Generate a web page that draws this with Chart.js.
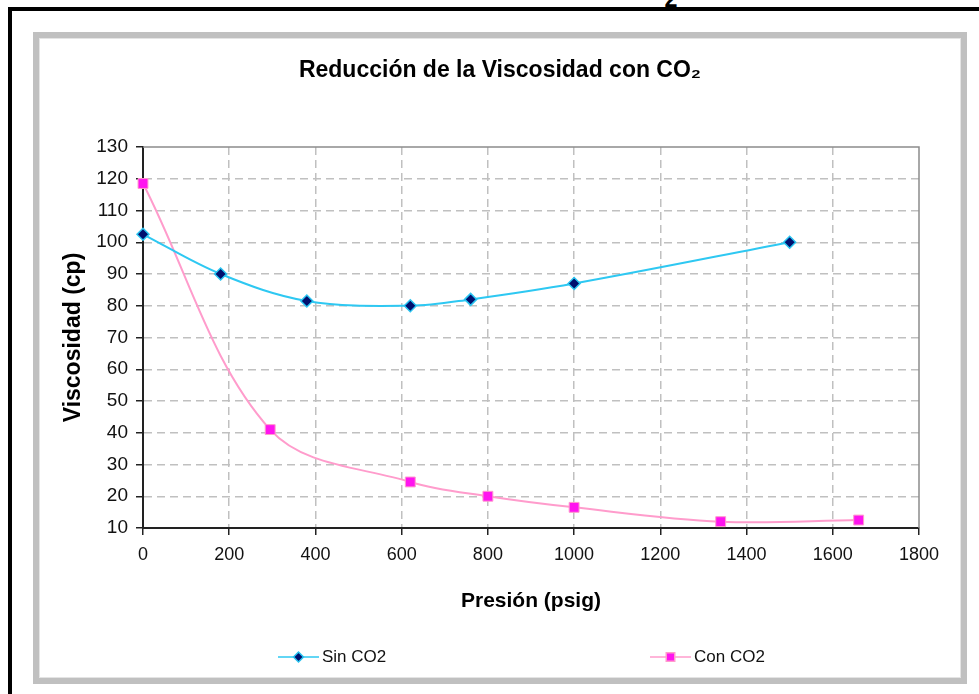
<!DOCTYPE html>
<html>
<head>
<meta charset="utf-8">
<script src="https://cdn.jsdelivr.net/npm/chart.js@4.4.1/dist/chart.umd.min.js"></script>
<style>
  body { margin: 0; background: #fff; width: 979px; height: 694px; overflow: hidden; position: relative; font-family: "Liberation Sans", Arial, sans-serif; }
  .cut { position: absolute; left: 30px; top: -25.5px; font-size: 28px; line-height: 32px; font-weight: bold; color: #000; white-space: nowrap; letter-spacing: 0.5px; }
  .outer { position: absolute; left: 8px; top: 7px; width: 990px; height: 720px; border: 4px solid #000; box-sizing: border-box; }
  .frame { position: absolute; left: 33px; top: 32px; width: 934px; height: 652px; border: 6px solid #c0c0c0; box-sizing: border-box; }
  .frame::after { content: ""; position: absolute; inset: 0; border: 1px solid #e4e4e4; }
  canvas { position: absolute; left: 0; top: 0; }
</style>
</head>
<body>
<div class="cut">Gráfica 1. Reducción de la Viscosidad con CO<sub>2</sub></div>
<div class="outer"></div>
<div class="frame"></div>
<canvas id="chart" width="979" height="694"></canvas>
<script>
  const chartTitle = 'Reducción de la Viscosidad con CO₂';
  const xTicks = [0, 200, 400, 600, 800, 1000, 1200, 1400, 1600, 1800];
  const yTicks = [10, 20, 30, 40, 50, 60, 70, 80, 90, 100, 110, 120, 130];

  const sinPresion = [0, 180, 380, 620, 760, 1000, 1500];
  const sinViscosidad = [102.5, 90, 81.5, 80, 82, 87, 100];

  const conPresion = [0, 295, 620, 800, 1000, 1340, 1660];
  const conViscosidad = [118.5, 41, 24.5, 20, 16.5, 12, 12.5];

  const toPoints = (xs, ys) => xs.map((x, i) => ({ x: x, y: ys[i] }));

  const FONT = '"Liberation Sans", Arial, sans-serif';

  // titulo centrado sobre el marco gris, no sobre el canvas
  const frameTitle = {
    id: 'frameTitle',
    afterDraw(chart) {
      const { ctx } = chart;
      ctx.save();
      ctx.fillStyle = '#000';
      ctx.font = 'bold 23px ' + FONT;
      ctx.textAlign = 'center';
      ctx.textBaseline = 'middle';
      ctx.fillText(chartTitle, 500, 71);
      ctx.restore();
    }
  };

  // borde gris del area de trazado (arriba y derecha)
  const plotBorder = {
    id: 'plotBorder',
    beforeDatasetsDraw(chart) {
      const { ctx, chartArea: a } = chart;
      ctx.save();
      ctx.strokeStyle = '#8c8c8c';
      ctx.lineWidth = 1.5;
      ctx.beginPath();
      ctx.moveTo(a.left, a.top);
      ctx.lineTo(a.right, a.top);
      ctx.lineTo(a.right, a.bottom);
      ctx.stroke();
      ctx.restore();
    }
  };

  // leyenda al estilo Excel: linea con marcador y texto
  const excelLegend = {
    id: 'excelLegend',
    afterDraw(chart) {
      const { ctx } = chart;
      const slots = [278, 650];
      const y = 657;
      ctx.save();
      chart.data.datasets.forEach((ds, i) => {
        const x0 = slots[i];
        ctx.strokeStyle = ds.borderColor;
        ctx.lineWidth = 1.5;
        ctx.beginPath();
        ctx.moveTo(x0, y);
        ctx.lineTo(x0 + 41, y);
        ctx.stroke();
        ctx.fillStyle = ds.pointBackgroundColor;
        ctx.strokeStyle = ds.pointBorderColor;
        Chart.helpers.drawPoint(ctx, {
          pointStyle: ds.pointStyle,
          radius: ds.pointRadius - 1,
          borderWidth: 1
        }, x0 + 20.5, y);
        ctx.fillStyle = '#111';
        ctx.font = '17px ' + FONT;
        ctx.textBaseline = 'middle';
        ctx.textAlign = 'left';
        ctx.fillText(ds.label, x0 + 44, y);
      });
      ctx.restore();
    }
  };

  new Chart(document.getElementById('chart'), {
    type: 'line',
    data: {
      datasets: [
        {
          label: 'Sin CO2',
          data: toPoints(sinPresion, sinViscosidad),
          borderColor: '#2ec8f2',
          borderWidth: 2,
          tension: 0.35,
          pointStyle: 'rectRot',
          pointRadius: 6,
          pointBackgroundColor: '#00106e',
          pointBorderColor: '#29c4f0',
          pointBorderWidth: 1.5,
          clip: false
        },
        {
          label: 'Con CO2',
          data: toPoints(conPresion, conViscosidad),
          borderColor: '#ff9ccc',
          borderWidth: 2,
          tension: 0.35,
          pointStyle: 'rect',
          pointRadius: 7,
          pointBackgroundColor: '#ff14ef',
          pointBorderColor: '#ff9ccc',
          pointBorderWidth: 1,
          clip: false
        }
      ]
    },
    options: {
      responsive: false,
      animation: false,
      devicePixelRatio: 1,
      layout: { padding: { left: 0, right: 60, top: 147, bottom: 0 } },
      plugins: {
        legend: { display: false },
        tooltip: { enabled: false },
        title: { display: false }
      },
      scales: {
        x: {
          type: 'linear',
          min: 0,
          max: 1800,
          afterBuildTicks: (scale) => { scale.ticks = xTicks.map(v => ({ value: v })); },
          afterFit: (scale) => { scale.height = 166; },
          ticks: {
            color: '#111', padding: 9, font: { family: FONT, size: 18 },
            callback: (v) => String(v)
          },
          grid: {
            color: (c) => (c.tick && (c.tick.value === 0 || c.tick.value === 1800)) ? 'rgba(0,0,0,0)' : '#c0c0c0',
            lineWidth: 1.5,
            tickLength: 7,
            tickColor: '#222',
            tickWidth: 1.5
          },
          border: { color: '#222', width: 2, dash: [8, 5] },
          title: {
            display: true,
            text: 'Presión (psig)',
            color: '#000',
            font: { family: FONT, size: 21, weight: 'bold', lineHeight: 1.2 },
            padding: { top: 0, bottom: 80 }
          }
        },
        y: {
          type: 'linear',
          min: 10,
          max: 130,
          afterBuildTicks: (scale) => { scale.ticks = yTicks.map(v => ({ value: v })); },
          afterFit: (scale) => { scale.width = 143; },
          ticks: {
            color: '#111', padding: 8, font: { family: FONT, size: 19 },
            callback: (v) => String(v)
          },
          grid: {
            color: (c) => (c.tick && (c.tick.value === 10 || c.tick.value === 130)) ? 'rgba(0,0,0,0)' : '#c0c0c0',
            lineWidth: 1.5,
            tickLength: 7,
            tickColor: '#222',
            tickWidth: 1.5
          },
          border: { color: '#222', width: 2, dash: [8, 5] },
          title: {
            display: true,
            text: 'Viscosidad (cp)',
            color: '#000',
            font: { family: FONT, size: 23, weight: 'bold', lineHeight: 1.2 },
            padding: { top: 60, bottom: 0 }
          }
        }
      }
    },
    plugins: [plotBorder, frameTitle, excelLegend]
  });
</script>
</body>
</html>
